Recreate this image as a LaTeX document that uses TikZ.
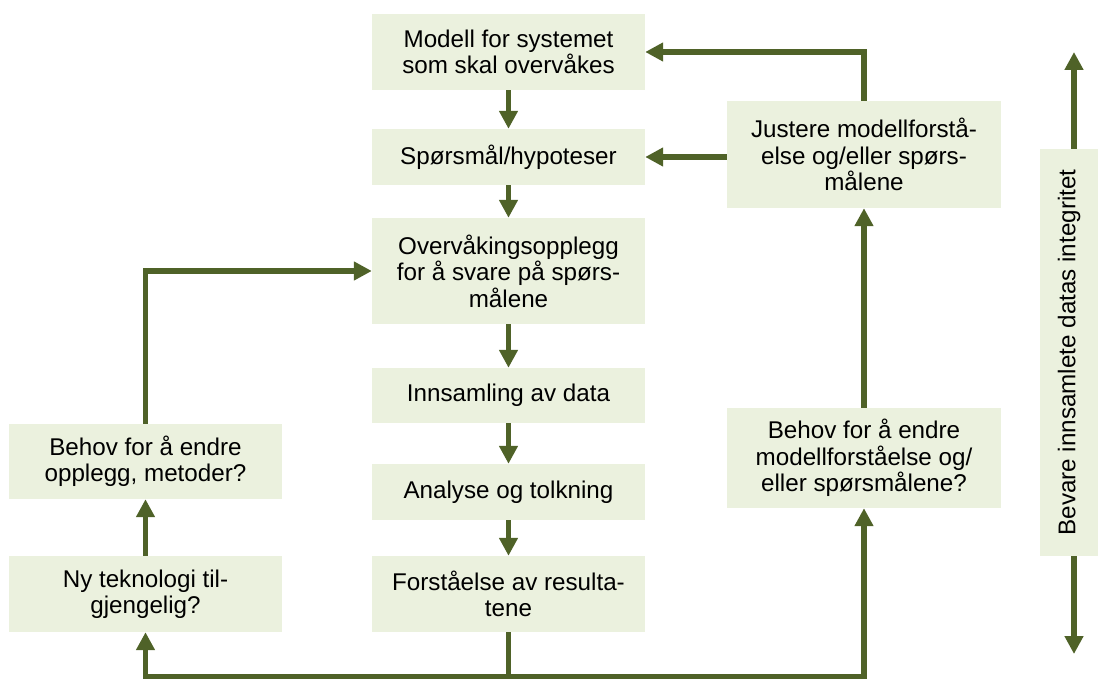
\documentclass[tikz,border=0pt]{standalone}
\usepackage{fontspec}
\setmainfont{Liberation Sans}
\usetikzlibrary{arrows.meta}
\definecolor{boxfill}{HTML}{EBF1DE}
\definecolor{arrcol}{HTML}{4F6228}
\begin{document}
\begin{tikzpicture}[x=1pt,y=-1pt,
  box/.style={fill=boxfill, inner sep=0pt, align=center, anchor=center,
    font=\fontsize{24.2}{26.5}\selectfont},
  conn/.style={draw=arrcol, line width=5.5pt, miter limit=10,
    -{Triangle[length=18pt,width=18pt]}},
]
\useasboundingbox (0,0) rectangle (1098,679);

% centre column
\node[box, minimum width=273pt, minimum height=76pt] (modell) at (508.5,52) {Modell for systemet\\som skal overvåkes};
\node[box, minimum width=273pt, minimum height=56pt] (sporsmal) at (508.5,157) {Spørsmål/hypoteser};
\node[box, minimum width=273pt, minimum height=106pt] (overv) at (508.5,271) {Overvåkingsopplegg\\for å svare på spørs-\\målene};
\node[box, minimum width=273pt, minimum height=55pt] (innsamling) at (508.5,395.5) {Innsamling av data};
\node[box, minimum width=273pt, minimum height=56pt] (analyse) at (508.5,492) {Analyse og tolkning};
\node[box, minimum width=273pt, minimum height=76pt] (forst) at (508.5,594) {Forståelse av resulta-\\tene};

% right column
\node[box, minimum width=274pt, minimum height=107pt] (justere) at (864,154.5) {Justere modellforstå-\\else og/eller spørs-\\målene};
\node[box, minimum width=274pt, minimum height=100pt] (behovR) at (864,458) {Behov for å endre\\modellforståelse og/\\eller spørsmålene?};

% left column
\node[box, minimum width=273pt, minimum height=75pt] (behovL) at (145.5,461.5) {Behov for å endre\\opplegg, metoder?};
\node[box, minimum width=273pt, minimum height=76pt] (ny) at (145.5,594) {Ny teknologi til-\\gjengelig?};

% integrity box
\node[box, minimum width=58pt, minimum height=407pt] (bevare) at (1069,352.5) {};
\node[font=\fontsize{24.2}{26.5}\selectfont, rotate=90, inner sep=0pt] (bevaretxt) at (1069,352.5) {Bevare innsamlete datas integritet};

\coordinate (bot) at (508.5,676.5);
\coordinate (btop) at (1074,52);
\coordinate (bbot) at (1074,654);
\coordinate (bvtop) at (1074,149);
\coordinate (bvbot) at (1074,556);

% main flow
\draw[conn] (modell) -- (sporsmal);
\draw[conn] (sporsmal) -- (overv);
\draw[conn] (overv) -- (innsamling);
\draw[conn] (innsamling) -- (analyse);
\draw[conn] (analyse) -- (forst);

% bottom feedback
\draw[conn] (forst.south) -- (bot) -| (ny.south);
\draw[conn] (bot) -| (behovR.south);
\draw[conn] (ny) -- (behovL);
\draw[conn] (behovL.north) |- (overv.west);
\draw[conn] (behovR) -- (justere);
\draw[conn] (justere.north) |- (modell.east);
\draw[conn] (justere.west |- sporsmal.east) -- (sporsmal.east);

% integrity arrows
\draw[conn] (bvtop) -- (btop);
\draw[conn] (bvbot) -- (bbot);
\end{tikzpicture}
\end{document}
